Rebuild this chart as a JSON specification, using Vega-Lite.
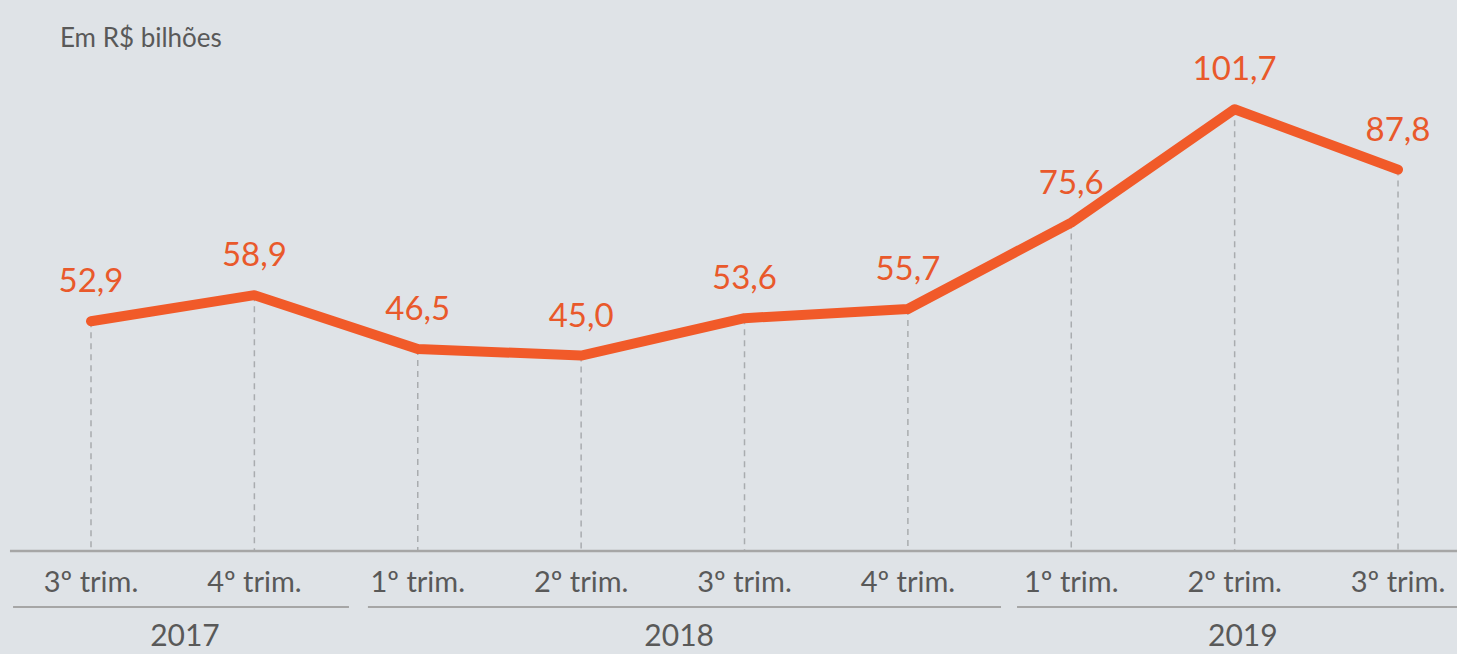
{
  "$schema": "https://vega.github.io/schema/vega-lite/v6.json",
  "width": 1457,
  "height": 654,
  "autosize": {"type": "none"},
  "padding": 0,
  "background": "#dfe3e7",
  "config": {"view": {"stroke": null}, "font": "Lato"},
  "datasets": {
    "q": [
      {"i": 0, "year": "2017", "quarter": "3º trim.", "value": 52.9, "label": "52,9"},
      {"i": 1, "year": "2017", "quarter": "4º trim.", "value": 58.9, "label": "58,9"},
      {"i": 2, "year": "2018", "quarter": "1º trim.", "value": 46.5, "label": "46,5"},
      {"i": 3, "year": "2018", "quarter": "2º trim.", "value": 45.0, "label": "45,0"},
      {"i": 4, "year": "2018", "quarter": "3º trim.", "value": 53.6, "label": "53,6"},
      {"i": 5, "year": "2018", "quarter": "4º trim.", "value": 55.7, "label": "55,7"},
      {"i": 6, "year": "2019", "quarter": "1º trim.", "value": 75.6, "label": "75,6"},
      {"i": 7, "year": "2019", "quarter": "2º trim.", "value": 101.7, "label": "101,7"},
      {"i": 8, "year": "2019", "quarter": "3º trim.", "value": 87.8, "label": "87,8"}
    ],
    "years": [
      {"year": "2017", "start": -0.477, "end": 1.579, "mid": 0.575},
      {"year": "2018", "start": 1.695, "end": 5.57, "mid": 3.6},
      {"year": "2019", "start": 5.668, "end": 8.361, "mid": 7.05}
    ]
  },
  "layer": [
    {
      "data": {"name": "q"},
      "mark": {"type": "rule", "color": "#a9acaf", "strokeWidth": 1.5, "strokeDash": [6, 5]},
      "encoding": {
        "x": {"field": "i", "type": "quantitative", "scale": {"domain": [-0.557, 8.361], "nice": false, "zero": false}, "axis": null},
        "y": {"field": "value", "type": "quantitative", "scale": {"domain": [-23.71, 126.84], "nice": false, "zero": false}, "axis": null},
        "y2": {"datum": 0}
      }
    },
    {
      "data": {"values": [{}]},
      "mark": {"type": "rule", "color": "#a6a6a6", "strokeWidth": 2.5},
      "encoding": {
        "x": {"datum": -0.496, "type": "quantitative"},
        "x2": {"datum": 8.361},
        "y": {"datum": 0, "type": "quantitative"}
      }
    },
    {
      "data": {"name": "q"},
      "mark": {"type": "line", "color": "#f15a29", "strokeWidth": 10, "strokeCap": "round", "strokeJoin": "round"},
      "encoding": {
        "x": {"field": "i", "type": "quantitative"},
        "y": {"field": "value", "type": "quantitative"}
      }
    },
    {
      "data": {"name": "q"},
      "mark": {"type": "text", "color": "#e9592b", "fontSize": 33, "dy": -39, "baseline": "middle", "align": "center"},
      "encoding": {
        "x": {"field": "i", "type": "quantitative"},
        "y": {"field": "value", "type": "quantitative"},
        "text": {"field": "label"}
      }
    },
    {
      "data": {"name": "q"},
      "mark": {"type": "text", "color": "#595959", "fontSize": 29, "baseline": "middle", "align": "center"},
      "encoding": {
        "x": {"field": "i", "type": "quantitative"},
        "y": {"datum": -7.37, "type": "quantitative"},
        "text": {"field": "quarter"}
      }
    },
    {
      "data": {"name": "years"},
      "mark": {"type": "rule", "color": "#a6a6a6", "strokeWidth": 2},
      "encoding": {
        "x": {"field": "start", "type": "quantitative"},
        "x2": {"field": "end"},
        "y": {"datum": -12.9, "type": "quantitative"}
      }
    },
    {
      "data": {"name": "years"},
      "mark": {"type": "text", "color": "#595959", "fontSize": 30, "baseline": "middle", "align": "center"},
      "encoding": {
        "x": {"field": "mid", "type": "quantitative"},
        "y": {"datum": -19.8, "type": "quantitative"},
        "text": {"field": "year"}
      }
    },
    {
      "data": {"values": [{"t": "Em R$ bilhões"}]},
      "mark": {"type": "text", "color": "#595959", "fontSize": 26, "baseline": "middle", "align": "left"},
      "encoding": {
        "x": {"datum": -0.19, "type": "quantitative"},
        "y": {"datum": 117.9, "type": "quantitative"},
        "text": {"field": "t"}
      }
    }
  ]
}
